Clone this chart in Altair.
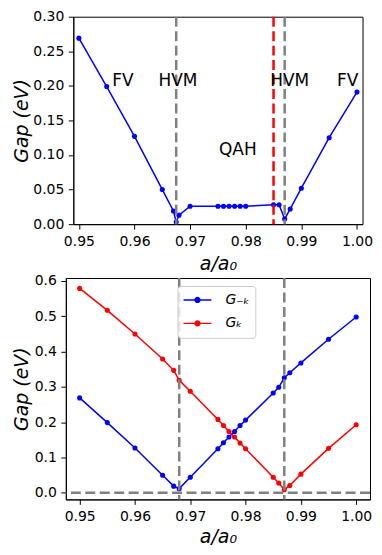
import altair as alt
import pandas as pd

# ---------------- data ----------------
# top panel: global gap
top_x = [0.95, 0.955, 0.96, 0.965, 0.967, 0.9675, 0.968, 0.97, 0.975, 0.976, 0.977,
         0.978, 0.979, 0.98, 0.985, 0.986, 0.987, 0.988, 0.99, 0.995, 1.00]
top_gap = [0.269, 0.199, 0.127, 0.050, 0.019, 0.003, 0.013, 0.026, 0.026, 0.026, 0.026,
           0.026, 0.026, 0.026, 0.028, 0.028, 0.0075, 0.022, 0.052, 0.125, 0.191]

# bottom panel: valley gaps
bot_x = [0.95, 0.955, 0.96, 0.965, 0.967, 0.968, 0.97, 0.975, 0.976, 0.977,
         0.978, 0.979, 0.98, 0.985, 0.986, 0.987, 0.988, 0.99, 0.995, 1.00]
g_minus_k = [0.269, 0.199, 0.127, 0.050, 0.019, 0.012, 0.044, 0.125, 0.142, 0.158,
             0.174, 0.191, 0.206, 0.283, 0.299, 0.326, 0.340, 0.368, 0.435, 0.498]
g_k = [0.579, 0.517, 0.450, 0.379, 0.347, 0.319, 0.288, 0.208, 0.191, 0.174,
       0.158, 0.141, 0.125, 0.044, 0.028, 0.009, 0.021, 0.053, 0.126, 0.193]
series_names = ["G\u208b\u2096", "G\u2096"]
series_colors = ["#0000ff", "#ff0000"]

# reference lines
top_gray_x = [0.9675, 0.987]
top_red_x = [0.985]
bot_gray_x = [0.968, 0.987]
bot_zero_y = [0.0]

# annotations
ann_text = ["FV", "HVM", "QAH", "HVM", "FV"]
ann_x = [0.956, 0.9643, 0.9752, 0.9844, 0.9964]
ann_y = [0.2, 0.2, 0.1, 0.2, 0.2]

x_ticks = [0.95, 0.96, 0.97, 0.98, 0.99, 1.00]
top_y_ticks = [0.0, 0.05, 0.10, 0.15, 0.20, 0.25, 0.30]
bot_y_ticks = [0.0, 0.1, 0.2, 0.3, 0.4, 0.5, 0.6]

# ---------------- frames ----------------
top_df = pd.DataFrame({"x": top_x, "gap": top_gap})
bot_df = pd.DataFrame({
    "x": bot_x + bot_x,
    "gap": g_minus_k + g_k,
    "series": [series_names[0]] * len(bot_x) + [series_names[1]] * len(bot_x),
})
ann_df = pd.DataFrame({"t": ann_text, "x": ann_x, "gap": ann_y})

FONT = "DejaVu Sans"
DASH = [10, 4.5]

x_title = "a/a\u2080"
y_title = "Gap (eV)"


def x_enc(domain, tpad):
    return alt.X("x:Q", scale=alt.Scale(domain=domain, nice=False, zero=False), title=x_title,
                 axis=alt.Axis(values=x_ticks, format=".2f", labelOverlap=False,
                               labelFlush=False, labelPadding=5.5, titlePadding=tpad))


def y_enc(domain, ticks, fmt, tpad):
    return alt.Y("gap:Q", scale=alt.Scale(domain=domain, nice=False, zero=False), title=y_title,
                 axis=alt.Axis(values=ticks, format=fmt, labelOverlap=False,
                               labelPadding=4.5, titlePadding=tpad))


# ---------------- top panel ----------------
x_top = x_enc([0.949, 1.001], 5.5)
y_top = y_enc([0.0, 0.3], top_y_ticks, ".2f", 1.7)

top_line = alt.Chart(top_df).mark_line(color="#0000ff", strokeWidth=1.5).encode(x=x_top, y=y_top)
top_pts = alt.Chart(top_df).mark_circle(color="#0000ff", size=26, opacity=1).encode(x=x_top, y=y_top)
top_gray = alt.Chart(pd.DataFrame({"x": top_gray_x})).mark_rule(
    color="gray", strokeWidth=2.5, strokeDash=DASH).encode(x=x_top)
top_red = alt.Chart(pd.DataFrame({"x": top_red_x})).mark_rule(
    color="red", strokeWidth=2.5, strokeDash=DASH).encode(x=x_top)
top_text = alt.Chart(ann_df).mark_text(
    font=FONT, fontSize=17, align="left", baseline="alphabetic", color="black"
).encode(x=x_top, y=y_top, text="t:N")

top = alt.layer(top_line, top_pts, top_gray, top_red, top_text).properties(width=290, height=208)

# ---------------- bottom panel ----------------
x_bot = x_enc([0.9475, 1.0025], 4)
y_bot = y_enc([-0.0185, 0.6085], bot_y_ticks, ".1f", 3)
color = alt.Color(
    "series:N",
    scale=alt.Scale(domain=series_names, range=series_colors),
    legend=alt.Legend(
        title=None, orient="none", legendX=112, legendY=8,
        symbolType="M-1,0L1,0M-0.17,0A0.17,0.17,0,1,0,0.17,0A0.17,0.17,0,1,0,-0.17,0"
                   "M-0.1,0A0.1,0.1,0,1,0,0.1,0A0.1,0.1,0,1,0,-0.1,0"
                   "M-0.04,0A0.04,0.04,0,1,0,0.04,0A0.04,0.04,0,1,0,-0.04,0",
        symbolSize=784, symbolStrokeWidth=1.5, clipHeight=18,
        labelFont=FONT, labelFontSize=14, labelFontStyle="italic", labelColor="black",
        fillColor="rgba(255,255,255,0.8)", strokeColor="#cccccc", cornerRadius=3,
        padding=5, rowPadding=5.5, labelOffset=13,
    ),
)

bot_pts = alt.Chart(bot_df).mark_circle(size=26, opacity=1).encode(x=x_bot, y=y_bot, color=color)
bot_line = alt.Chart(bot_df).mark_line(strokeWidth=1.5).encode(x=x_bot, y=y_bot, color=color)
bot_gray = alt.Chart(pd.DataFrame({"x": bot_gray_x})).mark_rule(
    color="gray", strokeWidth=2.5, strokeDash=DASH).encode(x=x_bot)
bot_zero = alt.Chart(pd.DataFrame({"gap": bot_zero_y})).mark_rule(
    color="gray", strokeWidth=2.5, strokeDash=DASH).encode(y=y_bot)

bottom = alt.layer(bot_pts, bot_line, bot_gray, bot_zero).properties(width=305, height=222)

chart = alt.concat(
    top, bottom, columns=1, spacing=54, align="each", bounds="flush", center=True
).resolve_scale(
    color="independent"
).properties(
    padding={"left": 3, "top": 0, "right": 0, "bottom": 0}
).configure(font=FONT).configure_view(
    stroke="black", strokeWidth=1
).configure_axis(
    grid=False, domainColor="black", domainWidth=1, tickColor="black", tickWidth=1,
    tickSize=5, labelFont=FONT, labelFontSize=14, labelColor="black",
    titleFont=FONT, titleFontSize=19, titleFontWeight="normal", titleFontStyle="italic",
    titleColor="black",
)

chart.save("out.html", embed_options={"renderer": "svg", "actions": False})
